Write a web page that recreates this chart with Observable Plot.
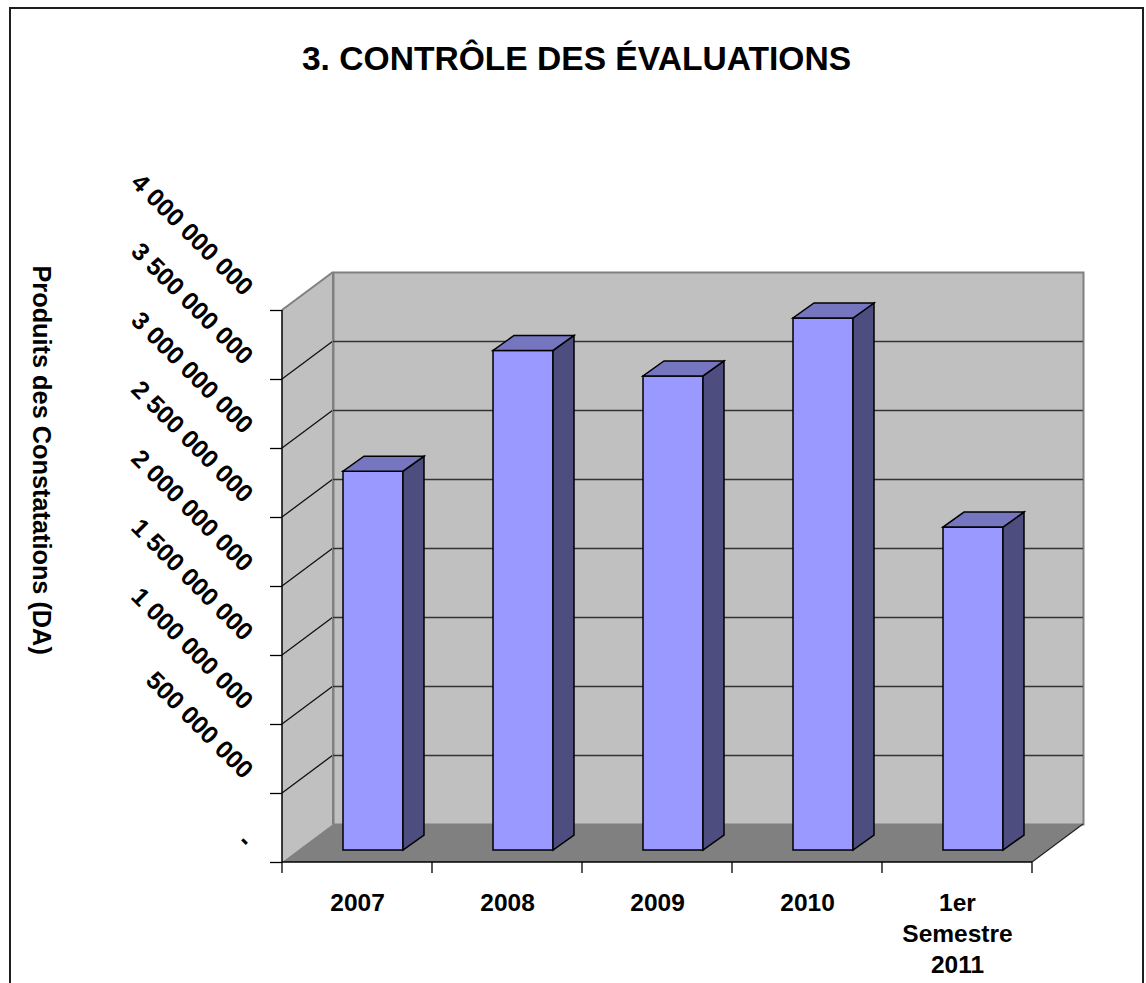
<!DOCTYPE html>
<html>
<head>
<meta charset="utf-8">
<script src="https://cdn.jsdelivr.net/npm/d3@7"></script>
<script src="https://cdn.jsdelivr.net/npm/@observablehq/plot@0.6"></script>
<style>
  body { margin: 0; background: #fff; font-family: "Liberation Sans", Arial, sans-serif; }
  #page { position: relative; width: 1146px; height: 983px; overflow: hidden; }
  #border { position: absolute; left: 9px; top: 7px; width: 1135px; height: 1100px; border: 2px solid #1e1e1e; box-sizing: border-box; }
  #title { position: absolute; left: 0; top: 42px; width: 1153px; text-align: center; font-size: 33.6px; font-weight: bold; line-height: 1; color: #000; }
  #chart { position: absolute; left: 0; top: 100px; }
</style>
</head>
<body>
<div id="page">
  <div id="border"></div>
  <div id="title">3. CONTRÔLE DES ÉVALUATIONS</div>
  <div id="chart"></div>
</div>
<script>
// ---- data ----
const categories = ["2007", "2008", "2009", "2010", "1er Semestre 2011"];
const categoryLabels = ["2007", "2008", "2009", "2010", "1er\nSemestre\n2011"];
const values = [2.745e9, 3.62e9, 3.435e9, 3.855e9, 2.34e9];
const yTicks = [0, 5e8, 1e9, 1.5e9, 2e9, 2.5e9, 3e9, 3.5e9, 4e9];
const yTitle = "Produits des Constatations (DA)";

const data = categories.map((c, i) => ({category: c, value: values[i], label: categoryLabels[i]}));

// ---- 3D styling (pixel offsets of the oblique projection) ----
const WALL = {dx: 51, dy: -38};
const BAR_FRONT = {dx: 16, dy: -12};
const BAR_DEPTH = {dx: 21, dy: -15};
const BAR_INSET = 45;
const COLORS = {wall: "#c0c0c0", floor: "#808080", edge: "#808080", grid: "#333333",
  front: "#9999ff", top: "#7676c0", side: "#4d4d80"};

const fmt = d => d === 0 ? "-" : d3.format(",")(d).replace(/,/g, " ");

function poly(g, pts, fill, stroke, sw) {
  g.append("polygon")
    .attr("points", pts.map(p => p.join(",")).join(" "))
    .attr("fill", fill)
    .attr("stroke", stroke || "none")
    .attr("stroke-width", sw || 1)
    .attr("stroke-linejoin", "miter");
}
function line(g, x1, y1, x2, y2, stroke, sw) {
  g.append("line").attr("x1", x1).attr("y1", y1).attr("x2", x2).attr("y2", y2)
    .attr("stroke", stroke).attr("stroke-width", sw || 1);
}

// left wall + floor + left wall gridlines
function wallsMark(index, scales, vals, dims) {
  const y = scales.y;
  const L = dims.marginLeft, R = dims.width - dims.marginRight;
  const y0 = y(yTicks[0]), yMax = y(yTicks[yTicks.length - 1]);
  const g = d3.create("svg:g");
  poly(g, [[L, y0], [L, yMax], [L + WALL.dx, yMax + WALL.dy], [L + WALL.dx, y0 + WALL.dy]], COLORS.wall);
  poly(g, [[L, y0], [R, y0], [R + WALL.dx, y0 + WALL.dy], [L + WALL.dx, y0 + WALL.dy]], COLORS.floor);
  for (const t of yTicks.slice(1, -1)) line(g, L, y(t), L + WALL.dx, y(t) + WALL.dy, "#111", 1.3);
  line(g, L, yMax, L + WALL.dx, yMax + WALL.dy, COLORS.edge, 2);
  line(g, L + WALL.dx, yMax + WALL.dy, L + WALL.dx, y0 + WALL.dy, COLORS.edge, 2);
  line(g, R, y0, R + WALL.dx, y0 + WALL.dy, "#222", 1.2);
  return g.node();
}

// side and top faces of bars
function barFacesMark(index, scales, vals, dims) {
  const x = scales.x, y = scales.y;
  const bw = x.bandwidth ? x.bandwidth() : (dims.width - dims.marginLeft - dims.marginRight) / categories.length;
  const g = d3.create("svg:g");
  data.forEach(d => {
    const xl = x(d.category) + BAR_INSET + BAR_FRONT.dx;
    const xr = x(d.category) + bw - BAR_INSET + BAR_FRONT.dx;
    const yt = y(d.value) + BAR_FRONT.dy;
    const yb = y(0) + BAR_FRONT.dy;
    poly(g, [[xr, yt], [xr + BAR_DEPTH.dx, yt + BAR_DEPTH.dy], [xr + BAR_DEPTH.dx, yb + BAR_DEPTH.dy], [xr, yb]], COLORS.side, "#000", 1.5);
    poly(g, [[xl, yt], [xr, yt], [xr + BAR_DEPTH.dx, yt + BAR_DEPTH.dy], [xl + BAR_DEPTH.dx, yt + BAR_DEPTH.dy]], COLORS.top, "#000", 1.5);
  });
  return g.node();
}

// front axis lines and category boundary ticks
function frontAxesMark(index, scales, vals, dims) {
  const x = scales.x, y = scales.y;
  const L = dims.marginLeft, R = dims.width - dims.marginRight;
  const y0 = y(yTicks[0]), yMax = y(yTicks[yTicks.length - 1]);
  const bw = x.bandwidth ? x.bandwidth() : (R - L) / categories.length;
  const g = d3.create("svg:g");
  line(g, L, yMax, L, y0, "#000", 1.5);
  line(g, L, y0, R, y0, "#000", 1.5);
  const bounds = categories.map(c => x(c)).concat([x(categories[categories.length - 1]) + bw]);
  for (const b of bounds) line(g, b, y0, b, y0 + 11, "#000", 1.3);
  return g.node();
}

const chart = Plot.plot({
  width: 1146,
  height: 883,
  marginLeft: 282,
  marginRight: 114,
  marginTop: 210,
  marginBottom: 121,
  style: {background: "transparent", overflow: "visible", fontFamily: "'Liberation Sans', Arial, sans-serif", color: "#000"},
  x: {type: "band", domain: categories, padding: 0, axis: null},
  y: {domain: [0, 4e9], axis: null},
  marks: [
    // back wall
    Plot.frame({fill: COLORS.wall, stroke: COLORS.edge, strokeWidth: 2, dx: WALL.dx, dy: WALL.dy}),
    wallsMark,
    // back wall gridlines
    Plot.ruleY(yTicks.slice(1, -1), {y: d => d, dx: WALL.dx, dy: WALL.dy, stroke: COLORS.grid, strokeWidth: 1.6}),
    // bar front faces
    Plot.barY(data, {x: "category", y: "value", dx: BAR_FRONT.dx, dy: BAR_FRONT.dy,
      insetLeft: BAR_INSET, insetRight: BAR_INSET, fill: COLORS.front, stroke: "#000", strokeWidth: 1.5}),
    barFacesMark,
    frontAxesMark,
    // y ticks
    Plot.axisY({ticks: yTicks, tickSize: 12, fill: "none", label: null, stroke: "#000", strokeWidth: 1.3}),
    // rotated y tick labels
    Plot.text(yTicks, {y: d => d, text: fmt, frameAnchor: "left", dx: -34, dy: -19, rotate: 45,
      textAnchor: "end", fontSize: 25, fontWeight: "bold", fill: "#000"}),
    // x labels
    Plot.text(data, {x: "category", text: "label", frameAnchor: "bottom", lineAnchor: "top", dy: 26,
      lineHeight: 1.28, fontSize: 24.5, fontWeight: "bold", fill: "#000"}),
    // y title
    Plot.text([yTitle], {text: d => d, frameAnchor: "top-left", rotate: 90, textAnchor: "start",
      dx: -232, dy: -45, fontSize: 25.3, fontWeight: "bold", fill: "#000"})
  ]
});
document.getElementById("chart").appendChild(chart);
</script>
</body>
</html>
